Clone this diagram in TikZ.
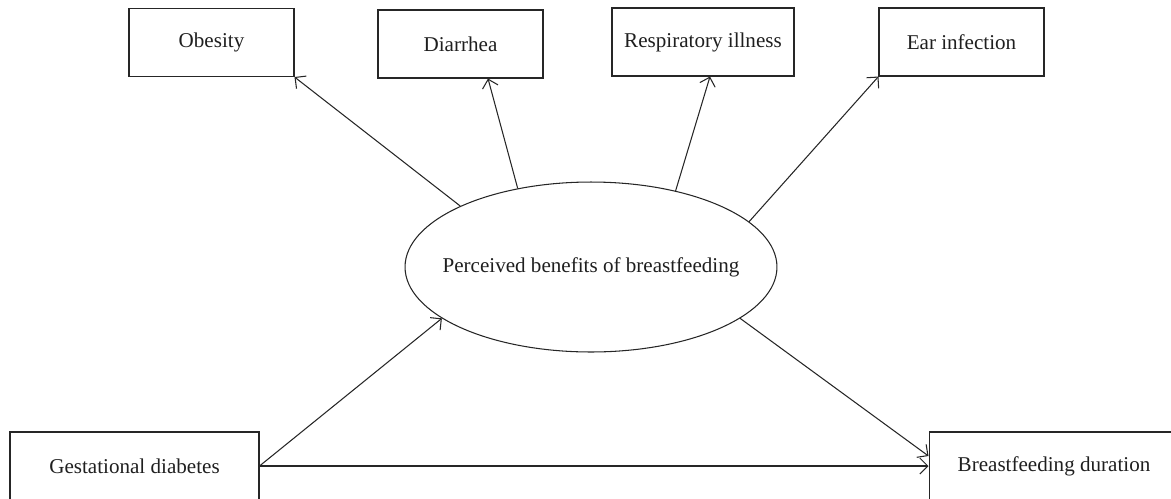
\documentclass[tikz,border=0pt]{standalone}
\usepackage{fontspec}
\setmainfont{Liberation Serif}
\usetikzlibrary{arrows.meta,shapes.geometric}

\begin{document}
\begin{tikzpicture}[
  x=0.02cm,
  y=-0.02cm,
  every node/.style={font=\fontsize{12}{14}\selectfont, text=black!88},
  factor/.style={draw=black!85, line width=0.6pt, minimum width=3.3cm, minimum height=1.36cm, inner sep=0pt},
  benefit/.style={ellipse, draw=black!85, line width=0.6pt, minimum width=7.44cm, minimum height=3.4cm, inner sep=0pt},
  link/.style={draw=black!85, line width=0.6pt, -{Straight Barb[length=1.6mm, width=3.2mm]}}
]
\useasboundingbox (0,0) rectangle (1171,498);
% outcomes
\node[factor] (obesity) at (211.5,42.5) {Obesity};
\node[factor] (diarrhea) at (460.5,44) {Diarrhea};
\node[factor, minimum width=3.64cm] (resp) at (703,42) {Respiratory illness};
\node[factor] (ear) at (961.5,42) {Ear infection};
% mediator
\node[benefit] (pbb) at (591,267) {\makebox[0pt]{Perceived benefits of breastfeeding}};
% exposure and outcome
\node[factor, minimum width=4.98cm] (gdm) at (134.5,466) {Gestational diabetes};
\node[factor, minimum width=5cm] (bfd) at (1054,466) {Breastfeeding duration};
\draw[link] (pbb.155) -- (obesity.south east);
\draw[link] (pbb.133) -- ([xshift=0.55cm]diarrhea.south);
\draw[link] (pbb.42) -- ([xshift=0.14cm]resp.south);
\draw[link] (pbb.16) -- (ear.south west);
\draw[link] (gdm.east) -- (pbb.199);
\draw[link] (gdm.east) -- (bfd.west);
\draw[link] (pbb.341) -- ([yshift=0.2cm]bfd.west);
\end{tikzpicture}
\end{document}
